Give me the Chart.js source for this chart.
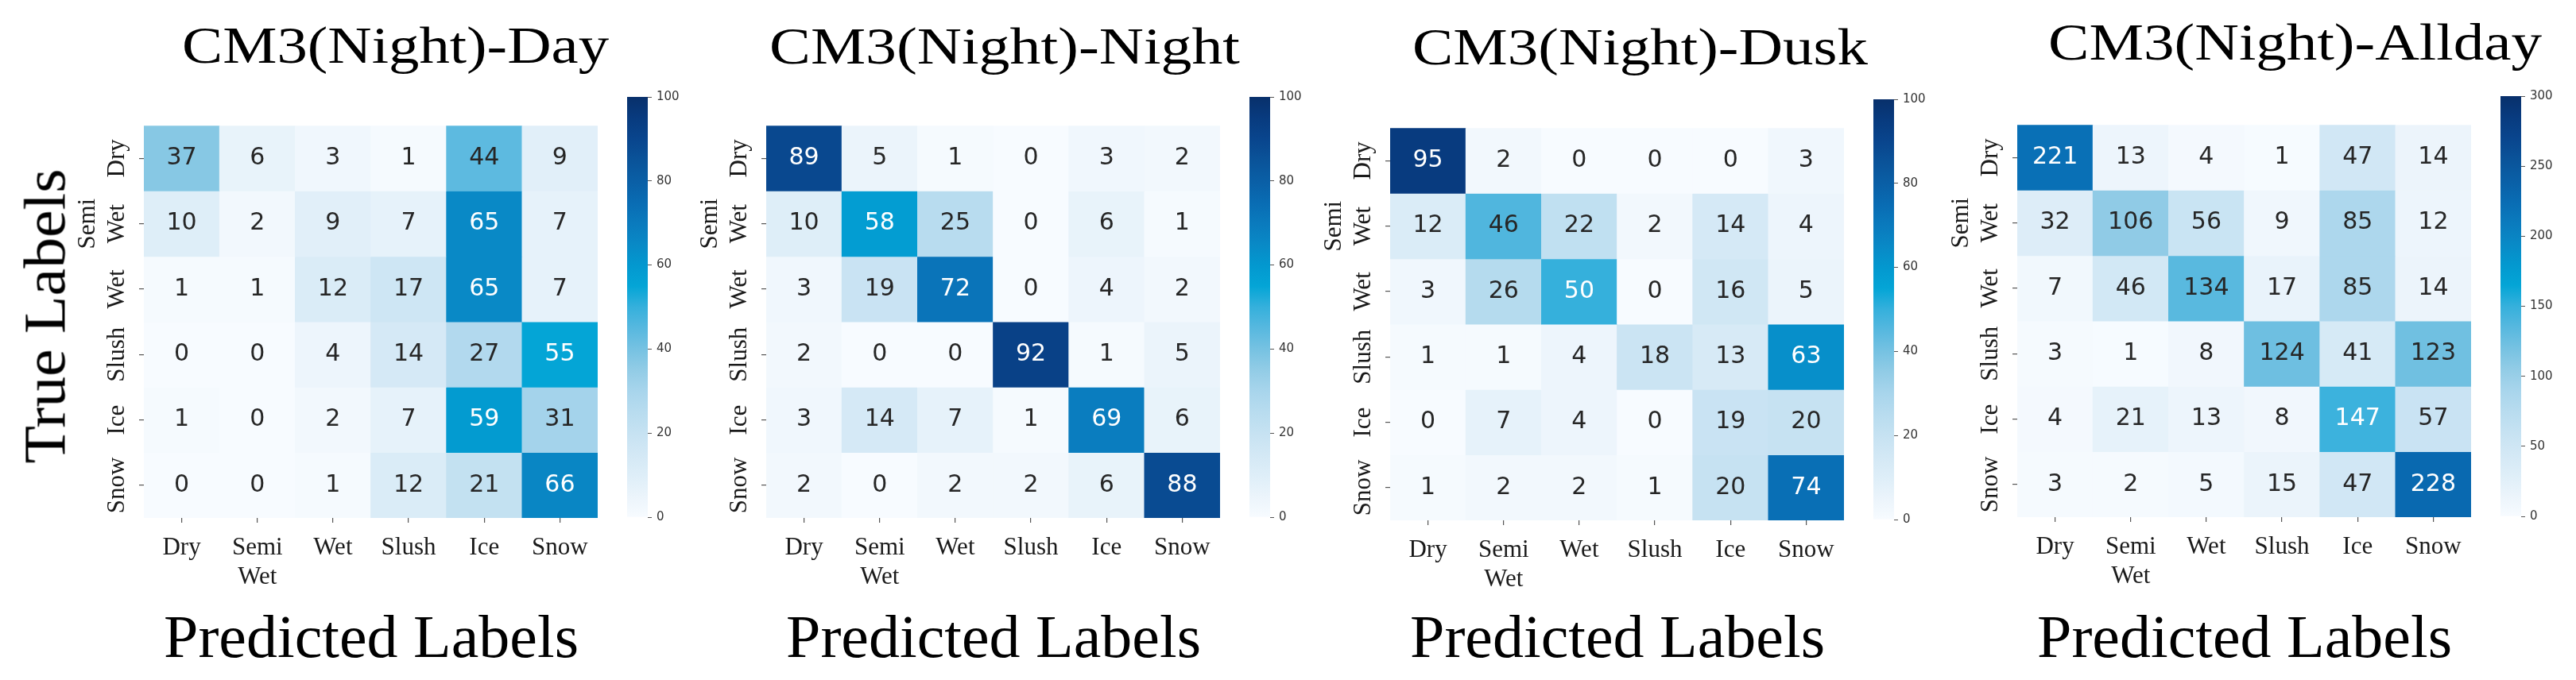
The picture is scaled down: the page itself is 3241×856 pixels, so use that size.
<!DOCTYPE html>
<html>
<head>
<meta charset="utf-8">
<script src="https://cdn.jsdelivr.net/npm/chart.js@4.4.1/dist/chart.umd.min.js"></script>
<style>
  html, body { margin: 0; padding: 0; background: #fff; }
  #page { position: relative; width: 3241px; height: 856px; overflow: hidden; background: #fff; }
  .box { position: absolute; }
  .lbl { position: absolute; white-space: nowrap; font-family: "Liberation Serif", serif; color: #000; line-height: 1; }
</style>
</head>
<body>
<div id="page"></div>
<script>
// class names, same order for rows (true) and columns (predicted)
const classes = ["Dry", "Semi Wet", "Wet", "Slush", "Ice", "Snow"];
const panelTitles = ["CM3(Night)-Day", "CM3(Night)-Night", "CM3(Night)-Dusk", "CM3(Night)-Allday"];

const dayCounts = [
  [37, 6, 3, 1, 44, 9],
  [10, 2, 9, 7, 65, 7],
  [1, 1, 12, 17, 65, 7],
  [0, 0, 4, 14, 27, 55],
  [1, 0, 2, 7, 59, 31],
  [0, 0, 1, 12, 21, 66]
];
const nightCounts = [
  [89, 5, 1, 0, 3, 2],
  [10, 58, 25, 0, 6, 1],
  [3, 19, 72, 0, 4, 2],
  [2, 0, 0, 92, 1, 5],
  [3, 14, 7, 1, 69, 6],
  [2, 0, 2, 2, 6, 88]
];
const duskCounts = [
  [95, 2, 0, 0, 0, 3],
  [12, 46, 22, 2, 14, 4],
  [3, 26, 50, 0, 16, 5],
  [1, 1, 4, 18, 13, 63],
  [0, 7, 4, 0, 19, 20],
  [1, 2, 2, 1, 20, 74]
];
const alldayCounts = [
  [221, 13, 4, 1, 47, 14],
  [32, 106, 56, 9, 85, 12],
  [7, 46, 134, 17, 85, 14],
  [3, 1, 8, 124, 41, 123],
  [4, 21, 13, 8, 147, 57],
  [3, 2, 5, 15, 47, 228]
];
const panelCounts = [dayCounts, nightCounts, duskCounts, alldayCounts];

const colorbarMax = [100, 100, 100, 300];
const colorbarStep = [20, 20, 20, 50];

// Blues-like colormap as it appears in the figure (stops every 5%)
const BLUES = [
  "#f7fbff", "#ebf4fb", "#deeef8", "#d3e8f5", "#c6e2f2", "#b8dcef", "#a8d5ec",
  "#92cce6", "#76c2e2", "#57b8df", "#35b0dc", "#04a5d6", "#0398cf", "#0989c6",
  "#0a7abd", "#096cb3", "#0a5fa6", "#0a5399", "#09458d", "#083b7f", "#08306b"
];

// layout (px)
const MAP_W = 571, MAP_H = 531;
const AXIS_W = 110, AXIS_H = 100, PAD = 10;
const CB_GAP = 37, CB_W = 26, CB_AXIS = 60, CB_PAD = 14;
const boxes = [
  { left: 181, top: 121 },
  { left: 964, top: 121 },
  { left: 1749, top: 124 },
  { left: 2538, top: 120 }
];
const titleBoxes = [[229, 766, 79], [968, 1560, 80], [1777, 2350, 81], [2577, 3198, 75]];

const page = document.getElementById("page");

function hexRgb(h) {
  return [1, 3, 5].map(k => parseInt(h.slice(k, k + 2), 16));
}

function colorAt(t) {
  t = Math.max(0, Math.min(1, t));
  const n = BLUES.length - 1;
  const i = Math.min(n - 1, Math.floor(t * n));
  const f = t * n - i;
  const a = hexRgb(BLUES[i]), b = hexRgb(BLUES[i + 1]);
  const c = a.map((v, k) => Math.round(v + (b[k] - v) * f));
  return `rgb(${c[0]},${c[1]},${c[2]})`;
}

function addText(text, size, left, width, baseline) {
  const el = document.createElement("div");
  el.className = "lbl";
  el.textContent = text;
  el.style.fontSize = size + "px";
  page.appendChild(el);
  const w = el.getBoundingClientRect().width;
  el.style.left = left + "px";
  el.style.top = (baseline - 0.8375 * size) + "px";
  el.style.transformOrigin = "0 0";
  el.style.transform = `scaleX(${width / w})`;
}

function addVerticalText(text, size, centerY, length, baselineX) {
  const el = document.createElement("div");
  el.className = "lbl";
  el.textContent = text;
  el.style.fontSize = size + "px";
  page.appendChild(el);
  const w = el.getBoundingClientRect().width;
  const cx = baselineX - 0.3375 * size;
  el.style.left = (cx - w / 2) + "px";
  el.style.top = (centerY - size / 2) + "px";
  el.style.transformOrigin = "50% 50%";
  el.style.transform = `rotate(-90deg) scaleX(${length / w})`;
}

function makeBox(left, top, width, height) {
  const wrap = document.createElement("div");
  wrap.className = "box";
  wrap.style.left = left + "px";
  wrap.style.top = top + "px";
  wrap.style.width = width + "px";
  wrap.style.height = height + "px";
  const canvas = document.createElement("canvas");
  wrap.appendChild(canvas);
  page.appendChild(wrap);
  return canvas;
}

// writes the count in the middle of each cell
const cellLabels = {
  id: "cellLabels",
  afterDatasetsDraw(chart) {
    const ctx = chart.ctx;
    ctx.save();
    ctx.font = '30px "DejaVu Sans"';
    ctx.textAlign = "center";
    ctx.textBaseline = "middle";
    chart.data.datasets.forEach((ds, r) => {
      chart.getDatasetMeta(r).data.forEach((bar, c) => {
        const v = ds.counts[c];
        const p = bar.getProps(["x", "y", "base"], true);
        ctx.fillStyle = v / ds.vmax >= 0.47 ? "#ffffff" : "#262626";
        ctx.fillText(String(v), p.x, (p.y + p.base) / 2);
      });
    });
    ctx.restore();
  }
};

const serifTicks = { family: "Liberation Serif", size: 31 };

function drawHeatmap(i) {
  const counts = panelCounts[i];
  const vmax = colorbarMax[i];
  const box = boxes[i];
  const canvas = makeBox(box.left - AXIS_W, box.top - PAD, AXIS_W + MAP_W + PAD, PAD + MAP_H + AXIS_H);

  new Chart(canvas, {
    type: "bar",
    data: {
      labels: classes.map(c => c.split(" ")),
      datasets: counts.map((row, r) => ({
        label: classes[r],
        data: row.map(() => [r, r + 1]),
        counts: row,
        vmax: vmax,
        backgroundColor: row.map(v => colorAt(v / vmax)),
        borderWidth: 0,
        barPercentage: 1,
        categoryPercentage: 1,
        grouped: false
      }))
    },
    options: {
      animation: false,
      responsive: true,
      maintainAspectRatio: false,
      layout: { padding: { top: PAD, right: PAD, left: 0, bottom: 0 } },
      plugins: { legend: { display: false }, tooltip: { enabled: false } },
      scales: {
        x: {
          afterFit: a => { a.height = AXIS_H; },
          ticks: { autoSkip: false, minRotation: 0, maxRotation: 0, padding: 13, font: serifTicks, color: "#1a1a1a" },
          grid: { offset: false, drawOnChartArea: false, tickLength: 6, color: "#555", lineWidth: 1.2 },
          border: { display: false }
        },
        y: {
          type: "linear",
          min: 0,
          max: 6,
          reverse: true,
          afterBuildTicks: a => { a.ticks = classes.map((_, k) => ({ value: k + 0.5 })); },
          afterFit: a => { a.width = AXIS_W; },
          ticks: {
            autoSkip: false,
            minRotation: 90,
            maxRotation: 90,
            crossAlign: "center",
            padding: 10,
            font: serifTicks,
            color: "#1a1a1a",
            callback: (v, k) => {
              const words = classes[k].split(" ");
              return words.length === 1 ? ["", words[0]] : words;
            }
          },
          grid: { drawOnChartArea: false, tickLength: 6, color: "#555", lineWidth: 1.2 },
          border: { display: false }
        }
      }
    },
    plugins: [cellLabels]
  });
}

function gradientFor(chart) {
  const area = chart.chartArea;
  if (!area) return BLUES[10];
  const g = chart.ctx.createLinearGradient(0, area.bottom, 0, area.top);
  BLUES.forEach((c, k) => g.addColorStop(k / (BLUES.length - 1), c));
  return g;
}

function drawColorbar(i) {
  const vmax = colorbarMax[i];
  const box = boxes[i];
  const canvas = makeBox(box.left + MAP_W + CB_GAP, box.top - CB_PAD, CB_W + CB_AXIS, MAP_H + 2 * CB_PAD);

  new Chart(canvas, {
    type: "bar",
    data: {
      labels: [""],
      datasets: [{
        data: [[0, vmax]],
        backgroundColor: ctx => gradientFor(ctx.chart),
        borderWidth: 0,
        barPercentage: 1,
        categoryPercentage: 1
      }]
    },
    options: {
      animation: false,
      responsive: true,
      maintainAspectRatio: false,
      layout: { padding: { top: CB_PAD, bottom: CB_PAD, left: 0, right: 0 } },
      plugins: { legend: { display: false }, tooltip: { enabled: false } },
      scales: {
        x: { display: false },
        y: {
          position: "right",
          min: 0,
          max: vmax,
          afterFit: a => { a.width = CB_AXIS; },
          ticks: { stepSize: colorbarStep[i], padding: 6, font: { family: "DejaVu Sans", size: 15 }, color: "#333" },
          grid: { drawOnChartArea: false, tickLength: 5, color: "#555", lineWidth: 1 },
          border: { display: false }
        }
      }
    }
  });
}

panelTitles.forEach((title, i) => {
  drawHeatmap(i);
  drawColorbar(i);
  const [l, r, base] = titleBoxes[i];
  addText(title, 66, l, r - l, base);
  const center = boxes[i].left + MAP_W / 2;
  addText("Predicted Labels", 76, center - 261, 522, 827);
});

addVerticalText("True Labels", 74, 398, 371, 81);
</script>
</body>
</html>
